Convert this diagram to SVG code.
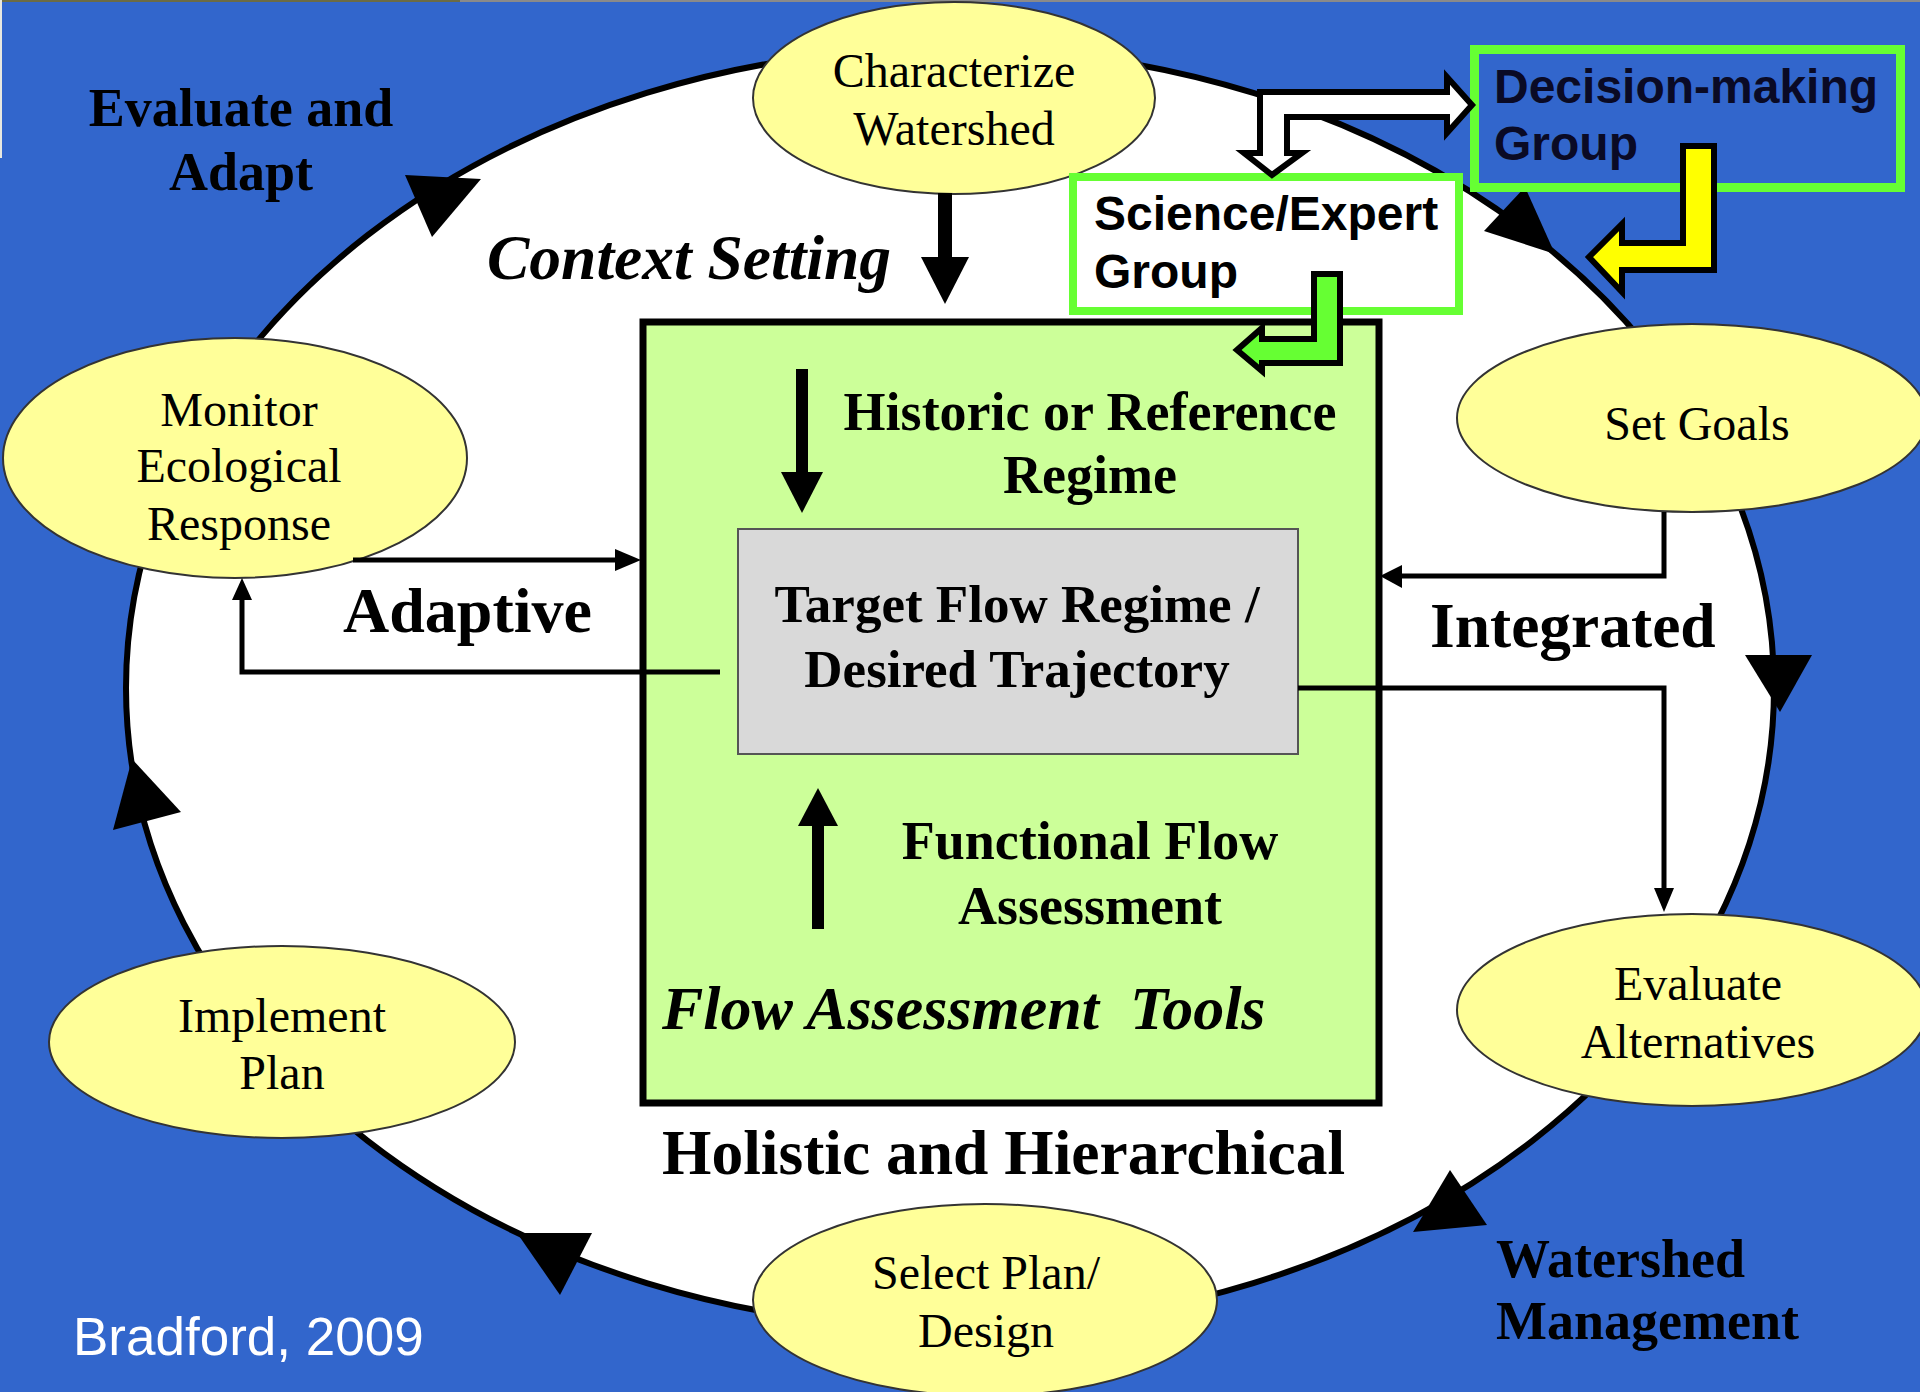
<svg xmlns="http://www.w3.org/2000/svg" width="1920" height="1392" viewBox="0 0 1920 1392">
<style>
.node{fill:#FFFF99;stroke:#333;stroke-width:2}
.nt{font-family:"Liberation Serif","Times New Roman",serif;font-size:48px;fill:#000;text-anchor:middle}
.lb{font-family:"Liberation Serif","Times New Roman",serif;font-weight:bold;fill:#000}
.bi{font-style:italic}
.sans{font-family:"Liberation Sans",Arial,sans-serif;font-weight:bold;font-size:48px}
.ln{fill:none;stroke:#000;stroke-width:5}
.ah{fill:#000}
.blk{stroke:#000;stroke-width:6;stroke-linejoin:miter}
</style>
<rect x="0" y="0" width="1920" height="1392" fill="#3266CC"/>
<rect x="0" y="0" width="460" height="2" fill="#6b6b45"/>
<rect x="460" y="0" width="1460" height="2" fill="#8a8a8a"/>
<rect x="0" y="0" width="2" height="158" fill="#e8e8e0"/>

<g id="cycle">
<ellipse cx="950" cy="688" rx="824" ry="640" fill="#fff" stroke="#000" stroke-width="6"/>
<polygon class="ah" points="405,175 481,179 432,237"/>
<polygon class="ah" points="1525,187 1484,231 1555,254"/>
<polygon class="ah" points="1745,655 1812,655 1780,712"/>
<polygon class="ah" points="1450,1170 1413,1232 1487,1225"/>
<polygon class="ah" points="517,1233 592,1233 560,1295"/>
<polygon class="ah" points="132,759 181,812 113,830"/>
</g>

<g id="flow-tools">
<rect x="643" y="322" width="736" height="781" fill="#CCFF99" stroke="#000" stroke-width="7"/>
<text class="lb" font-size="54" text-anchor="middle" x="1090" y="430">Historic or Reference</text>
<text class="lb" font-size="54" text-anchor="middle" x="1090" y="493">Regime</text>
<text class="lb" font-size="54" text-anchor="middle" x="1090" y="859">Functional Flow</text>
<text class="lb" font-size="54" text-anchor="middle" x="1090" y="924">Assessment</text>
<text class="lb bi" font-size="62" x="662" y="1029" xml:space="preserve">Flow Assessment  Tools</text>
</g>

<g id="target">
<rect x="738" y="529" width="560" height="225" fill="#D9D9D9" stroke="#555" stroke-width="2"/>
<text class="lb" font-size="53" text-anchor="middle" x="1017" y="622">Target Flow Regime /</text>
<text class="lb" font-size="53" text-anchor="middle" x="1017" y="687">Desired Trajectory</text>
</g>

<g id="characterize">
<ellipse class="node" cx="954" cy="98" rx="201" ry="96"/>
<text class="nt" x="954" y="87">Characterize</text>
<text class="nt" x="954" y="145">Watershed</text>
</g>
<g id="set-goals">
<ellipse class="node" cx="1692" cy="418" rx="235" ry="94"/>
<text class="nt" x="1697" y="440">Set Goals</text>
</g>
<g id="evaluate-alternatives">
<ellipse class="node" cx="1692" cy="1010" rx="235" ry="96"/>
<text class="nt" x="1698" y="1000">Evaluate</text>
<text class="nt" x="1698" y="1058">Alternatives</text>
</g>
<g id="select-plan">
<ellipse class="node" cx="985" cy="1300" rx="232" ry="96"/>
<text class="nt" x="986" y="1289">Select Plan/</text>
<text class="nt" x="986" y="1347">Design</text>
</g>
<g id="implement-plan">
<ellipse class="node" cx="282" cy="1042" rx="233" ry="96"/>
<text class="nt" x="282" y="1032">Implement</text>
<text class="nt" x="282" y="1089">Plan</text>
</g>
<g id="monitor">
<ellipse class="node" cx="235" cy="458" rx="232" ry="120"/>
<text class="nt" x="239" y="426">Monitor</text>
<text class="nt" x="239" y="482">Ecological</text>
<text class="nt" x="239" y="540">Response</text>
</g>

<g id="science-expert">
<rect x="1073" y="177" width="386" height="134" fill="#fff" stroke="#66FF33" stroke-width="8"/>
<text class="sans" x="1094" y="230">Science/Expert</text>
<text class="sans" x="1094" y="288">Group</text>
</g>
<g id="decision-making">
<rect x="1474.5" y="49.5" width="426" height="138" fill="#3266CC" stroke="#66FF33" stroke-width="9"/>
<text class="sans" x="1494" y="103" fill="#0a0a25">Decision-making</text>
<text class="sans" x="1494" y="160" fill="#0a0a25">Group</text>
</g>

<g id="labels">
<text class="lb" font-size="54" text-anchor="middle" x="241" y="126" fill="#0a0a1f">Evaluate and</text>
<text class="lb" font-size="54" text-anchor="middle" x="241" y="190" fill="#0a0a1f">Adapt</text>
<text class="lb bi" font-size="63.5" x="487" y="279">Context Setting</text>
<text class="lb" font-size="64" x="343" y="632">Adaptive</text>
<text class="lb" font-size="63.5" x="1430" y="647">Integrated</text>
<text class="lb" font-size="63.5" x="662" y="1174">Holistic and Hierarchical</text>
<text class="lb" font-size="54" x="1496" y="1277" fill="#0a0a1f">Watershed</text>
<text class="lb" font-size="54" x="1496" y="1339" fill="#0a0a1f">Management</text>
<text x="73" y="1355" font-family="'Liberation Sans',Arial,sans-serif" font-size="53" fill="#fff">Bradford, 2009</text>
</g>

<g id="connectors">
<rect x="938" y="193" width="14" height="66" fill="#000"/>
<polygon class="ah" points="921,257 969,257 945,304"/>
<rect x="796" y="369" width="12" height="105" fill="#000"/>
<polygon class="ah" points="781,472 823,472 802,513"/>
<rect x="812" y="824" width="12" height="105" fill="#000"/>
<polygon class="ah" points="798,826 838,826 818,788"/>
<path class="ln" d="M353,560 H620"/>
<polygon class="ah" points="615,549 641,560 615,571"/>
<path class="ln" d="M720,672 H242 V598"/>
<polygon class="ah" points="232,600 242,578 252,600"/>
<path class="ln" d="M1664,512 V576 H1398"/>
<polygon class="ah" points="1402,565 1380,576 1402,588"/>
<path class="ln" d="M1298,688 H1664 V890"/>
<polygon class="ah" points="1654,888 1664,912 1674,888"/>
<polygon class="blk" fill="#fff" points="1260,92 1447,92 1447,77 1472,105 1447,133 1447,117 1287,117 1287,153 1302,153 1272,175 1244,153 1260,153"/>
<polygon class="blk" fill="#66FF33" stroke-width="5" points="1314,274 1340,274 1340,363 1262,363 1262,371 1237,350 1262,328 1262,339 1314,339"/>
<polygon class="blk" fill="#FFFF00" points="1683,146 1714,146 1714,270 1622,270 1622,292 1589,257 1622,224 1622,243 1683,243"/>
</g>
</svg>
